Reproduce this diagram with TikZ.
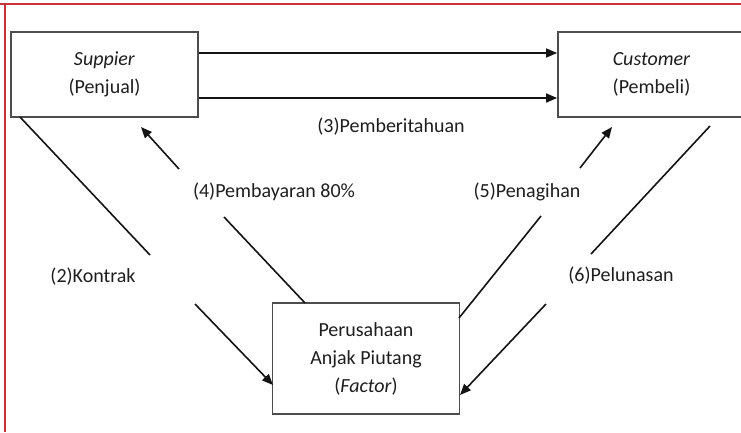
\documentclass[tikz,border=0pt]{standalone}
\usepackage{fontspec}
\setmainfont{Carlito}
\usetikzlibrary{arrows.meta}
\definecolor{txt}{HTML}{1E1E1E}
\definecolor{boxc}{HTML}{4D4D4D}
\definecolor{linec}{HTML}{141414}
\definecolor{redb}{HTML}{C8303A}
\tikzset{
  boxnode/.style={draw=boxc, line width=1.8pt, minimum width=187pt, align=center, text=txt, inner sep=0pt,
    font=\fontsize{20}{28}\selectfont},
  lbl/.style={text=txt, inner sep=0pt, font=\fontsize{20}{24}\selectfont},
  conn/.style={draw=linec, line width=1.6pt},
  arr/.style={conn, -{Triangle[length=11pt,width=9pt]}}
}
\begin{document}
\begin{tikzpicture}[x=1pt,y=-1pt]
\useasboundingbox (0,0) rectangle (741,432);
\clip (0,0) rectangle (741,432);
\fill[white] (0,0) rectangle (741,432);
% red frame lines
\draw[redb, line width=1.5pt] (0,4) -- (741,4);
\draw[redb, line width=1.5pt] (5,4) -- (5,432);
% boxes
\node[boxnode, minimum height=85pt] (sup) at (104.5,74.5) {\textit{Suppier}\\(Penjual)};
\node[boxnode, minimum height=85pt] (cus) at (651.5,74.5) {\textit{Customer}\\(Pembeli)};
\node[boxnode, minimum height=111pt] (fac) at (366,358.5) {Perusahaan\\Anjak Piutang\\(\textit{Factor})};
% labels
\node[lbl] (l3) at (391,127) {(3)Pemberitahuan};
\node[lbl] (l4) at (274,192) {(4)Pembayaran 80\%};
\node[lbl] (l5) at (527,192) {(5)Penagihan};
\node[lbl] (l2) at (93,277) {(2)Kontrak};
\node[lbl] (l6) at (621,276) {(6)Pelunasan};
% top arrows
\draw[arr] (sup.east |- 0,53) -- (cus.west |- 0,53);
\draw[arr] (sup.east |- 0,98) -- (cus.west |- 0,98);
% coordinates of broken connectors
\coordinate (a2s) at (20,117);
\coordinate (a2m1) at (150,255);
\coordinate (a2m2) at (195,304);
\coordinate (a2e) at (273,385);
\coordinate (a4s) at (305,303);
\coordinate (a4m1) at (224,217);
\coordinate (a4m2) at (179,169);
\coordinate (a4e) at (141,127);
\coordinate (a5s) at (459,318);
\coordinate (a5m1) at (541,216);
\coordinate (a5m2) at (580,168);
\coordinate (a5e) at (612,127);
\coordinate (a6s) at (710,126);
\coordinate (a6m1) at (591,254);
\coordinate (a6m2) at (546,304);
\coordinate (a6e) at (460,395);
% (2) Kontrak
\draw[conn] (a2s) -- (a2m1);
\draw[arr] (a2m2) -- (a2e);
% (4) Pembayaran
\draw[conn] (a4s) -- (a4m1);
\draw[arr] (a4m2) -- (a4e);
% (5) Penagihan
\draw[conn] (a5s) -- (a5m1);
\draw[arr] (a5m2) -- (a5e);
% (6) Pelunasan
\draw[conn] (a6s) -- (a6m1);
\draw[arr] (a6m2) -- (a6e);
\end{tikzpicture}
\end{document}
